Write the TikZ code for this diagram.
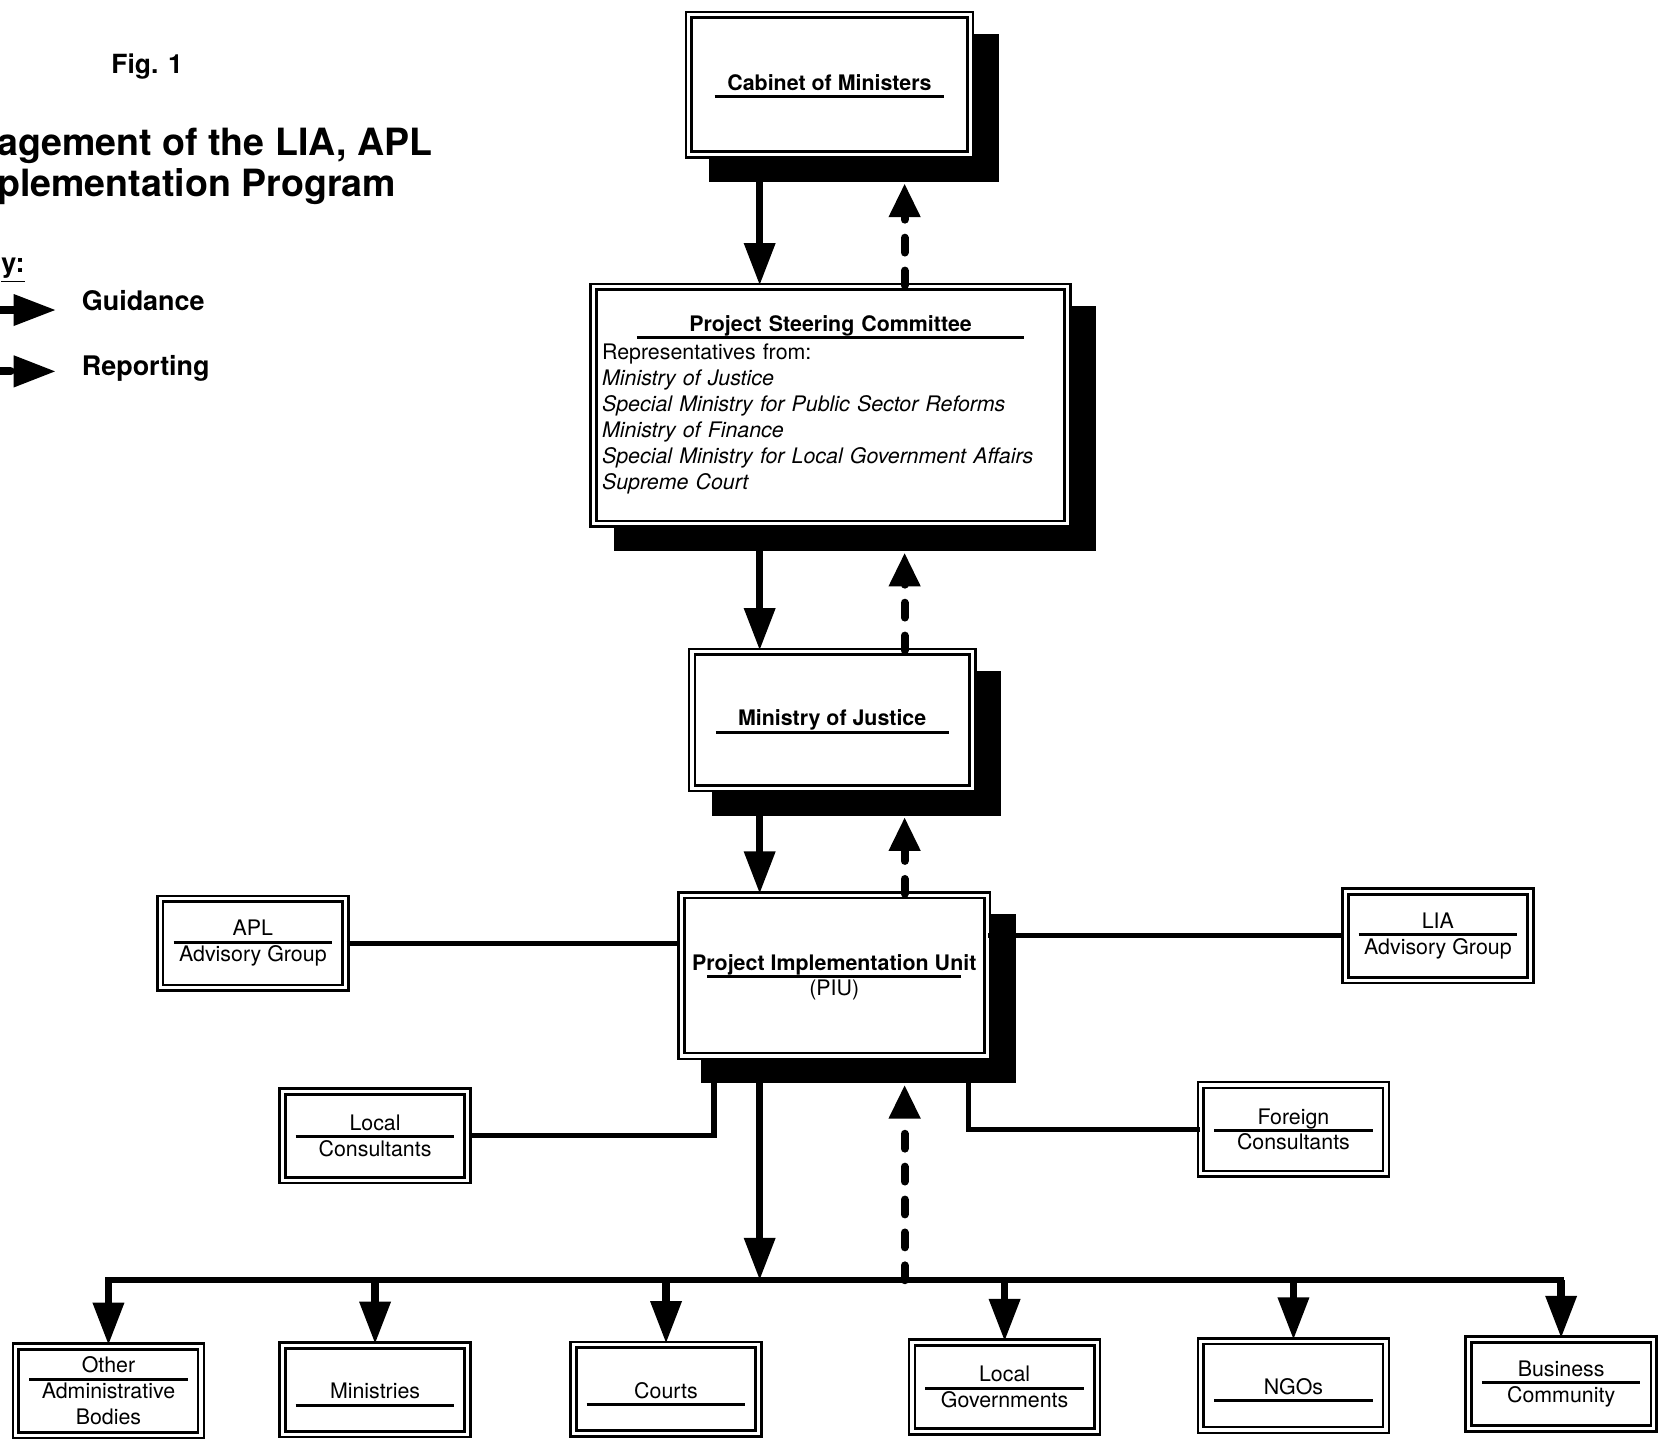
\documentclass[tikz,border=0pt]{standalone}
\usepackage{fontspec}
\setmainfont{TeX Gyre Heros}
\usetikzlibrary{arrows.meta,calc,shadows}

\newcommand{\ulbar}[1]{\rule{#1}{1.6pt}}
\newcommand{\hdr}[3][10.6pt]{\rule{0pt}{#1}#2\\[-9.8pt]\ulbar{#3}}
\newcommand{\pairlab}[3]{#1\\[-9.8pt]\ulbar{#3}\\[-4.4pt]#2}

\tikzset{
  box/.style={draw, line width=1.4pt, double, double distance=1.7pt, fill=white,
    align=center, inner sep=0pt, font=\fontsize{11.5}{14}\selectfont},
  shadowbox/.style={box, general shadow={fill=black, draw=black, line width=4.6pt,
    shadow xshift=13.1pt, shadow yshift=-12.5pt}},
  boldbox/.style={shadowbox, font=\fontsize{11.5}{14}\selectfont\bfseries},
  small/.style={box, minimum width=3.5cm, minimum height=1.68cm},
  guide/.style={line width=4pt, -{Triangle[width=16pt,length=22.8pt]}},
  report/.style={line width=4.3pt, dash pattern=on 8pt off 9.7pt, line cap=round,
    -{Triangle[width=16pt,length=18.2pt]}},
  link/.style={line width=2.8pt},
  busline/.style={line width=3.4pt, line cap=rect},
  keytext/.style={font=\fontsize{14.5}{17}\selectfont\bfseries, anchor=base west, inner sep=0pt},
  headline/.style={font=\fontsize{20.2}{24}\selectfont\bfseries, anchor=base west, inner sep=0pt}
}

\begin{document}
\begin{tikzpicture}[x=0.02cm, y=-0.02cm]
\fill[white] (0,0) rectangle (1568,1360);
\useasboundingbox (0,0) rectangle (1568,1360);

% heading and key
\node[keytext, font=\fontsize{14.2}{17}\selectfont\bfseries] (fig) at (105,69) {Fig. 1};
\node[headline] (ttla) at (-3,146.5) {agement of the LIA, APL};
\node[headline] (ttlb) at (-3,186) {plementation Program};
\node[keytext] (key) at (1,258) {\underline{y:}};
\node[keytext] (kguid) at (77,293) {Guidance};
\node[keytext] (krep) at (77,354.5) {Reporting};
\coordinate (kg0) at (-2,293);
\coordinate (kg1) at (53,293);
\coordinate (kr0) at (-4,351);
\coordinate (kr1) at (53,351);
\draw[guide] (kg0) -- (kg1);
\draw[report, -{Triangle[width=16pt,length=22.8pt]}] (kr0) -- (kr1);

% main chain
\node[boldbox, minimum width=5.32cm, minimum height=2.64cm] (cab) at (784,80)
  {\hdr{Cabinet of Ministers}{4.34cm}};
\node[shadowbox, minimum width=8.96cm, minimum height=4.48cm, text width=8.64cm, align=left] (psc) at (785,383)
  {\makebox[8.64cm]{\bfseries Project Steering Committee}\\[-10pt]
   \makebox[8.64cm]{\ulbar{7.32cm}}\\[-3pt]
   Representatives from:\\
   \textit{Ministry of Justice}\\
   \textit{Special Ministry for Public Sector Reforms}\\
   \textit{Ministry of Finance}\\
   \textit{Special Ministry for Local Government Affairs}\\
   \textit{Supreme Court}};
\node[boldbox, minimum width=5.3cm, minimum height=2.58cm] (moj) at (786.5,680.5)
  {\hdr{Ministry of Justice}{4.4cm}};
\node[shadowbox, minimum width=5.78cm, minimum height=3.04cm] (piu) at (788.5,922)
  {\pairlab{\rule{0pt}{10.6pt}\textbf{Project Implementation Unit}}{(PIU)}{4.8cm}};

% side boxes
\node[small] (apl) at (239,891.5) {\pairlab{APL}{Advisory Group}{3cm}};
\node[small] (lia) at (1359,884.5) {\pairlab{LIA}{Advisory Group}{3cm}};
\node[small] (lc) at (354.5,1073.5) {\pairlab{Local}{Consultants}{3cm}};
\node[small] (fc) at (1222.5,1067.5) {\pairlab{Foreign}{Consultants}{3cm}};

% bottom row
\node[small] (other) at (102.5,1314.5) {\pairlab{Other}{Administrative\\Bodies}{3cm}};
\node[small] (minis) at (354.5,1313.5) {\hdr[14pt]{Ministries}{3cm}};
\node[small] (courts) at (629.5,1313) {\hdr[14pt]{Courts}{3cm}};
\node[small] (locgov) at (949.5,1311) {\pairlab{Local}{Governments}{3cm}};
\node[small] (ngos) at (1222.5,1309.5) {\hdr[14pt]{NGOs}{3cm}};
\node[small] (busi) at (1475.5,1308) {\pairlab{Business}{Community}{3cm}};

% guidance and reporting
\coordinate (g) at (718,0);
\coordinate (r) at (855,0);
\coordinate (bus) at (720,1210);
\draw[guide] ($(cab.south -| g)+(0,12)$) -- (psc.north -| g);
\draw[report] (psc.north -| r) -- ($(cab.south -| r)+(0,26)$);
\draw[guide] ($(psc.south -| g)+(0,12)$) -- (moj.north -| g);
\draw[report] (moj.north -| r) -- ($(psc.south -| r)+(0,26)$);
\draw[guide] ($(moj.south -| g)+(0,12)$) -- (piu.north -| g);
\draw[report] (piu.north -| r) -- ($(moj.south -| r)+(0,26)$);
\draw[guide] ($(piu.south -| g)+(0,12)$) -- (bus -| g);
\draw[report] (bus -| r) -- ($(piu.south -| r)+(0,26)$);

% advisers
\draw[link] (apl.east) -- (apl.east -| piu.west);
\draw[link] (lia.west) -- (lia.west -| piu.east);
\draw[link] (lc.east) -| ($(piu.south west)+(32,12)$);
\draw[link] (fc.west) -| ($(piu.south east)+(-19,12)$);

% distribution bus
\draw[busline] (bus -| other.north) -- (bus -| busi.north);
\foreach \b in {other,minis,courts,locgov,ngos,busi}
  \draw[guide] (bus -| \b.north) -- (\b.north);
\end{tikzpicture}
\end{document}
